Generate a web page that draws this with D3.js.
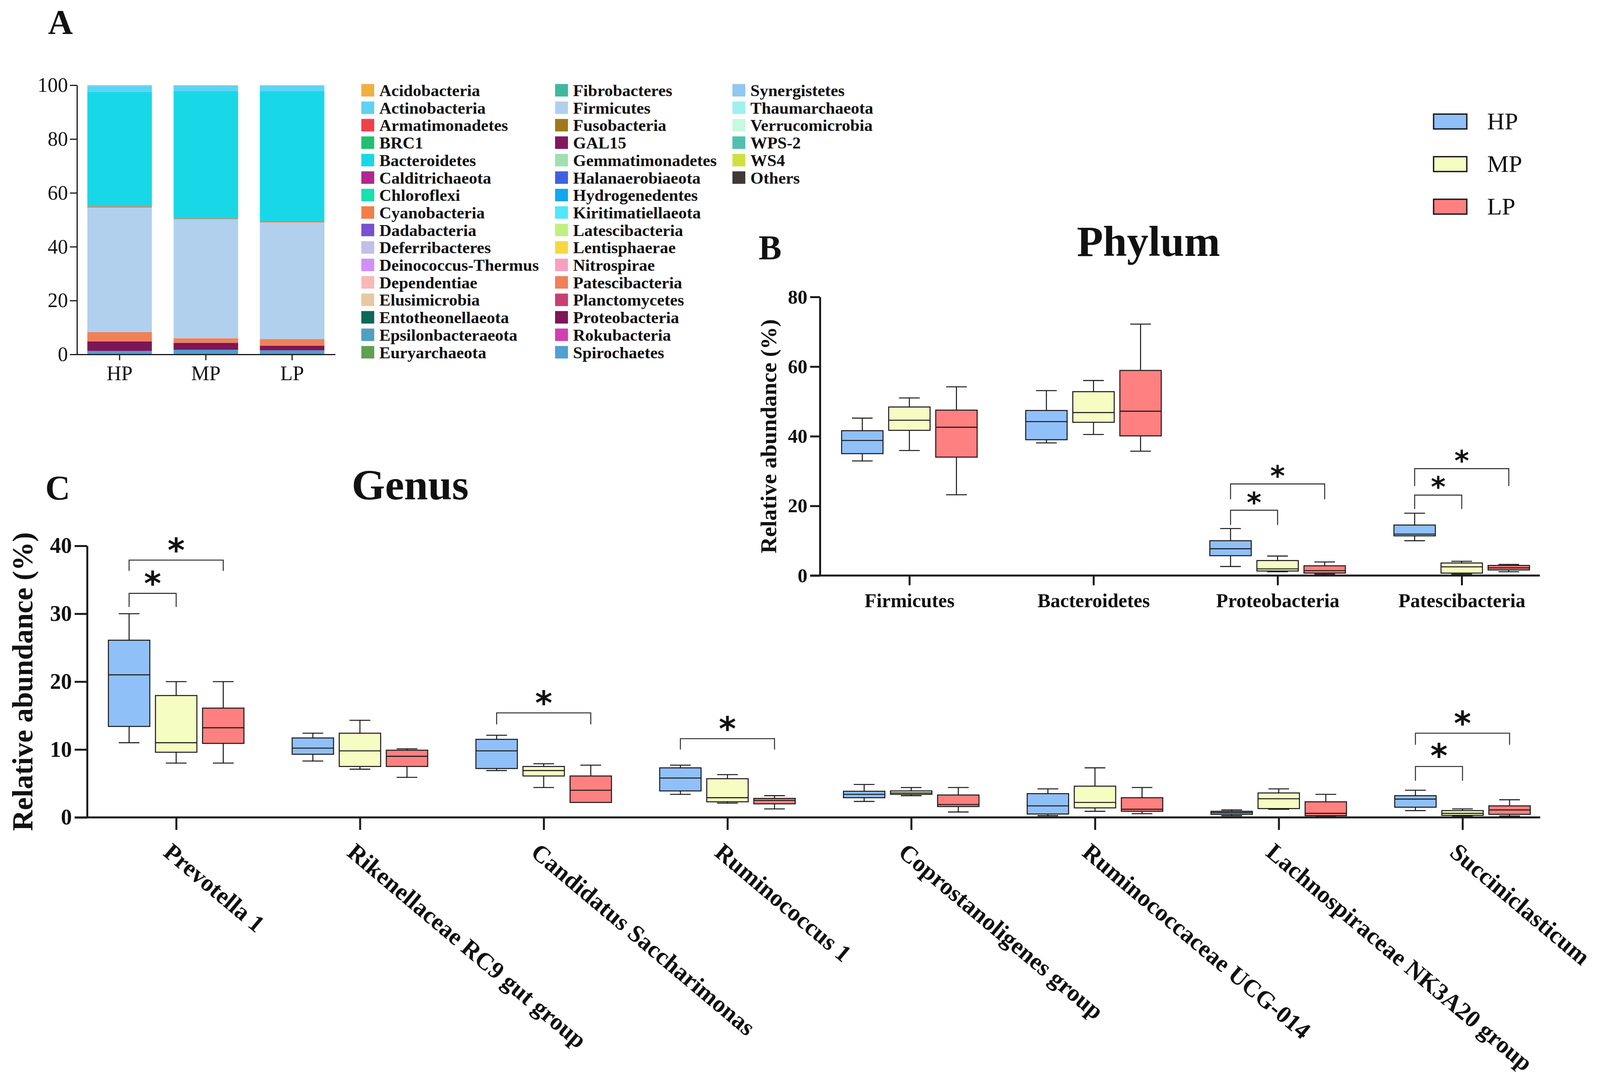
<!DOCTYPE html>
<html>
<head>
<meta charset="utf-8">
<script src="https://cdn.jsdelivr.net/npm/d3@7"></script>
<style>
  body { margin: 0; background: #fff; }
  text { font-family: "Liberation Serif", "Times New Roman", serif; fill: #111; }
</style>
</head>
<body>
<div id="chart"></div>
<script>
// ---- shared ----
const groups = ["HP", "MP", "LP"];
const groupFill = ["#90c0f8", "#f5fdc2", "#ff8080"];

// ---- panel A: stacked phylum composition (bottom to top) ----
const stackKeys = ["Spirochaetes", "Proteobacteria", "Patescibacteria", "Firmicutes",
  "Cyanobacteria", "Bacteroidetes", "Actinobacteria", "Acidobacteria"];
const stackHP = [1.3, 3.5, 3.5, 46.2, 0.5, 42.6, 2.2, 0.2];
const stackMP = [1.7, 2.6, 1.7, 44.2, 0.3, 47.4, 2.0, 0.1];
const stackLP = [1.5, 1.7, 2.5, 43.3, 0.5, 48.3, 2.1, 0.1];
const yTicksA = [0, 20, 40, 60, 80, 100];

const legendNames = [
  "Acidobacteria", "Actinobacteria", "Armatimonadetes", "BRC1", "Bacteroidetes", "Calditrichaeota",
  "Chloroflexi", "Cyanobacteria", "Dadabacteria", "Deferribacteres", "Deinococcus-Thermus", "Dependentiae",
  "Elusimicrobia", "Entotheonellaeota", "Epsilonbacteraeota", "Euryarchaeota",
  "Fibrobacteres", "Firmicutes", "Fusobacteria", "GAL15", "Gemmatimonadetes", "Halanaerobiaeota",
  "Hydrogenedentes", "Kiritimatiellaeota", "Latescibacteria", "Lentisphaerae", "Nitrospirae", "Patescibacteria",
  "Planctomycetes", "Proteobacteria", "Rokubacteria", "Spirochaetes",
  "Synergistetes", "Thaumarchaeota", "Verrucomicrobia", "WPS-2", "WS4", "Others"];
const legendColors = [
  "#f0b040", "#5fd3f3", "#f0404a", "#20c070", "#18d8e8", "#b0288e",
  "#18e0b0", "#f08048", "#7850d0", "#c0c0e8", "#d090f8", "#f8b8b8",
  "#e8c8a0", "#106858", "#50a0c0", "#60a050",
  "#40b8a0", "#b0d0ee", "#a07818", "#801860", "#a0e0b0", "#4060e0",
  "#10a8f0", "#50e8f8", "#c0f080", "#f8d840", "#f8a0c0", "#f08058",
  "#c84070", "#7d1559", "#d040b0", "#50a0d0",
  "#90c8f0", "#a0f0f0", "#c8f8e0", "#50c0b0", "#d0e040", "#403838"];

// ---- panel B: phylum boxes, [min, q1, median, q3, max] ----
const phyla = ["Firmicutes", "Bacteroidetes", "Proteobacteria", "Patescibacteria"];
const phylumHP = [[32.9, 35.0, 38.8, 41.6, 45.2], [38.1, 39.0, 44.2, 47.4, 53.1], [2.6, 5.7, 7.7, 10.0, 13.5], [10.0, 11.4, 11.9, 14.5, 17.9]];
const phylumMP = [[35.9, 41.7, 44.6, 48.4, 51.0], [40.5, 44.0, 46.8, 52.8, 56.0], [1.1, 1.3, 1.9, 4.3, 5.6], [0.4, 0.7, 2.5, 3.6, 4.1]];
const phylumLP = [[23.2, 34.0, 42.6, 47.5, 54.2], [35.7, 40.1, 47.2, 58.9, 72.2], [0.4, 0.7, 1.4, 2.8, 3.9], [1.1, 1.6, 2.2, 2.9, 3.2]];
const yTicksB = [0, 20, 40, 60, 80];
// [category, from, to, bracket level, leg end, star level]
const phylumSig = [
  ["Proteobacteria", "HP", "MP", 18.75, 14.5, 23.0],
  ["Proteobacteria", "HP", "LP", 26.3, 21.9, 30.7],
  ["Patescibacteria", "HP", "MP", 23.1, 19.1, 27.5],
  ["Patescibacteria", "HP", "LP", 30.7, 25.7, 35.0]];

// ---- panel C: genus boxes ----
const genera = ["Prevotella 1", "Rikenellaceae RC9 gut group", "Candidatus Saccharimonas", "Ruminococcus 1",
  "Coprostanoligenes group", "Ruminococcaceae UCG-014", "Lachnospiraceae NK3A20 group", "Succiniclasticum"];
const genusHP = [[11.0, 13.4, 21.0, 26.1, 30.0], [8.3, 9.3, 10.2, 11.7, 12.4], [6.9, 7.2, 9.8, 11.5, 12.1], [3.4, 3.9, 5.8, 7.3, 7.7],
  [2.35, 2.9, 3.4, 3.85, 4.85], [0.25, 0.5, 1.7, 3.5, 4.2], [0.25, 0.45, 0.7, 0.9, 1.1], [1.0, 1.5, 2.7, 3.2, 4.0]];
const genusMP = [[8.0, 9.6, 11.0, 17.95, 20.0], [7.1, 7.5, 9.8, 12.4, 14.3], [4.4, 6.1, 6.9, 7.5, 7.9], [2.1, 2.3, 2.9, 5.7, 6.3],
  [3.2, 3.4, 3.6, 3.9, 4.4], [0.9, 1.4, 2.2, 4.6, 7.3], [1.2, 1.3, 2.75, 3.6, 4.2], [0.2, 0.3, 0.6, 1.0, 1.25]];
const genusLP = [[8.0, 10.9, 13.2, 16.1, 20.0], [5.9, 7.5, 9.0, 9.9, 10.1], [2.2, 2.2, 4.0, 6.1, 7.7], [1.25, 2.0, 2.5, 2.8, 3.2],
  [0.8, 1.6, 1.9, 3.3, 4.4], [0.55, 0.9, 1.2, 2.9, 4.4], [0.2, 0.25, 0.6, 2.3, 3.4], [0.2, 0.45, 1.1, 1.7, 2.6]];
const yTicksC = [0, 10, 20, 30, 40];
const genusSig = [
  ["Prevotella 1", "HP", "MP", 33.0, 31.0, 35.7],
  ["Prevotella 1", "HP", "LP", 37.9, 36.3, 40.6],
  ["Candidatus Saccharimonas", "HP", "LP", 15.4, 13.7, 18.1],
  ["Ruminococcus 1", "HP", "LP", 11.6, 10.0, 14.3],
  ["Succiniclasticum", "HP", "MP", 7.5, 5.4, 10.3],
  ["Succiniclasticum", "HP", "LP", 12.4, 10.7, 15.1]];

const W = 4117, H = 2782;
const svg = d3.select("#chart").append("svg")
  .attr("width", W).attr("height", H)
  .style("background", "#fff");

const ink = "#1a1a1a";

// panel letters and titles
function label(txt, x, y, size, anchor) {
  svg.append("text").attr("x", x).attr("y", y)
    .attr("font-size", size).attr("font-weight", "bold")
    .attr("text-anchor", anchor || "start").text(txt);
}
label("A", 123, 86, 88);
label("B", 1942, 663, 88);
label("C", 116, 1278, 88);
label("Phylum", 2940, 655, 110, "middle");
label("Genus", 1050, 1278, 110, "middle");

// ================= Panel A =================
const xA = d3.scaleBand().domain(groups).range([195.75, 858.25]).paddingInner(0.252).paddingOuter(0.126);
const yA = d3.scaleLinear().domain([0, 100]).range([907, 218]);
const colorOf = d3.scaleOrdinal().domain(legendNames).range(legendColors);

const stackRows = groups.map((g, gi) => {
  const vals = [stackHP, stackMP, stackLP][gi];
  const row = { group: g };
  stackKeys.forEach((k, i) => row[k] = vals[i]);
  return row;
});
const series = d3.stack().keys(stackKeys)(stackRows);

const gA = svg.append("g");
gA.selectAll("g.layer").data(series).enter().append("g")
  .attr("fill", d => colorOf(d.key))
  .selectAll("rect").data(d => d).enter().append("rect")
  .attr("x", d => xA(d.data.group))
  .attr("width", xA.bandwidth())
  .attr("y", d => yA(d[1]))
  .attr("height", d => yA(d[0]) - yA(d[1]));

const axA = gA.append("g").attr("transform", "translate(197,0)")
  .call(d3.axisLeft(yA).tickValues(yTicksA).tickSize(18).tickSizeOuter(0).tickPadding(5));
const axAx = gA.append("g").attr("transform", "translate(0,907)")
  .call(d3.axisBottom(xA).tickSize(15).tickSizeOuter(0).tickPadding(14));
[axA, axAx].forEach(a => {
  a.attr("font-family", null);
  a.selectAll("path,line").attr("stroke", ink).attr("stroke-width", 3);
  a.selectAll("text").attr("font-size", 52).attr("fill", "#111")
    .style("font-family", '"Liberation Serif", serif');
});

// legend A
const legRow = 44.7;
legendNames.forEach((name, i) => {
  const col = Math.floor(i / 16), row = i % 16;
  const sx = [925, 1421, 1875][col];
  const tx = [971, 1467, 1921][col];
  const cy = 231 + row * legRow;
  svg.append("rect").attr("x", sx).attr("y", cy - 16).attr("width", 33).attr("height", 32)
    .attr("fill", colorOf(name));
  svg.append("text").attr("x", tx).attr("y", cy + 15).attr("font-size", 43)
    .attr("font-weight", "bold").attr("fill", "#222").text(name);
});

// group legend
groups.forEach((g, i) => {
  const cy = 311 + i * 109;
  svg.append("rect").attr("x", 3670).attr("y", cy - 19).attr("width", 85).attr("height", 38)
    .attr("fill", groupFill[i]).attr("stroke", ink).attr("stroke-width", 3.5);
  svg.append("text").attr("x", 3807).attr("y", cy + 20).attr("font-size", 62).text(g);
});

// ================= box panels =================
function boxPanel(cfg) {
  const g = svg.append("g");
  const off = d3.scalePoint().domain(groups).range([-120.5, 120.5]);
  const bw = 106, cap = 53;
  const stats = [cfg.hp, cfg.mp, cfg.lp];
  const boxes = [];
  cfg.cats.forEach((c, ci) => groups.forEach((gr, gi) => {
    const s = stats[gi][ci];
    boxes.push({ cx: cfg.x(c) + off(gr), s: s, fill: groupFill[gi] });
  }));
  const y = cfg.y;
  const b = g.selectAll("g.box").data(boxes).enter().append("g")
    .attr("stroke", ink).attr("stroke-width", 2.6);
  b.append("line").attr("x1", d => d.cx).attr("x2", d => d.cx)
    .attr("y1", d => y(d.s[0])).attr("y2", d => y(d.s[4]));
  b.append("line").attr("x1", d => d.cx - cap / 2).attr("x2", d => d.cx + cap / 2)
    .attr("y1", d => y(d.s[0])).attr("y2", d => y(d.s[0]));
  b.append("line").attr("x1", d => d.cx - cap / 2).attr("x2", d => d.cx + cap / 2)
    .attr("y1", d => y(d.s[4])).attr("y2", d => y(d.s[4]));
  b.append("rect").attr("x", d => d.cx - bw / 2).attr("width", bw)
    .attr("y", d => y(d.s[3])).attr("height", d => y(d.s[1]) - y(d.s[3]))
    .attr("fill", d => d.fill);
  b.append("line").attr("x1", d => d.cx - bw / 2).attr("x2", d => d.cx + bw / 2)
    .attr("y1", d => y(d.s[2])).attr("y2", d => y(d.s[2]));

  // significance brackets
  const sg = g.selectAll("g.sig").data(cfg.sig).enter().append("g");
  sg.append("path")
    .attr("fill", "none").attr("stroke", "#333").attr("stroke-width", 2.6)
    .attr("d", d => {
      const x1 = cfg.x(d[0]) + off(d[1]), x2 = cfg.x(d[0]) + off(d[2]);
      return `M${x1},${y(d[4])}V${y(d[3])}H${x2}V${y(d[4])}`;
    });
  sg.append("text")
    .attr("x", d => cfg.x(d[0]) + (off(d[1]) + off(d[2])) / 2)
    .attr("y", d => y(d[5]) + cfg.star * 0.6)
    .attr("text-anchor", "middle").attr("font-size", cfg.star)
    .attr("font-weight", "bold")
    .style("font-family", '"DejaVu Sans", sans-serif')
    .text("*");

  // axes
  const ay = g.append("g").attr("transform", `translate(${cfg.x0},0)`)
    .call(d3.axisLeft(y).tickValues(cfg.ticks).tickSize(cfg.tick).tickSizeOuter(0).tickPadding(7));
  ay.attr("font-family", null);
  ay.selectAll("path,line").attr("stroke", ink).attr("stroke-width", 5);
  ay.selectAll("text").attr("font-size", cfg.tickFont).attr("font-weight", "bold")
    .attr("fill", "#111").style("font-family", '"Liberation Serif", serif');

  g.append("line").attr("x1", cfg.xl[0]).attr("x2", cfg.xl[1])
    .attr("y1", y(0)).attr("y2", y(0)).attr("stroke", ink).attr("stroke-width", 5);
  const ax = g.append("g").attr("transform", `translate(0,${y(0)})`)
    .call(d3.axisBottom(cfg.x).tickSize(cfg.tick).tickSizeOuter(0).tickFormat(cfg.rot ? "" : null).tickPadding(20));
  ax.attr("font-family", null);
  ax.select(".domain").remove();
  ax.selectAll("line").attr("stroke", ink).attr("stroke-width", 5);
  ax.selectAll("text").attr("font-size", cfg.catFont).attr("font-weight", "bold")
    .attr("fill", "#111").style("font-family", '"Liberation Serif", serif');

  if (cfg.rot) {
    g.selectAll("text.cat").data(cfg.cats).enter().append("text")
      .attr("class", "cat")
      .attr("transform", d => `translate(${cfg.x(d) - 9},${y(0) + 63}) rotate(${cfg.rot})`)
      .attr("dy", "0.68em")
      .attr("font-size", cfg.catFont).attr("font-weight", "bold")
      .text(d => d);
  }

  // y title
  const yc = (y(0) + y(cfg.ticks[cfg.ticks.length - 1])) / 2;
  g.append("text").attr("transform", `translate(${cfg.titleX},${yc}) rotate(-90)`)
    .attr("text-anchor", "middle").attr("dominant-baseline", "central")
    .attr("font-size", cfg.titleFont).attr("font-weight", "bold")
    .text("Relative abundance (%)");
}

boxPanel({
  cats: phyla, hp: phylumHP, mp: phylumMP, lp: phylumLP, sig: phylumSig,
  x: d3.scalePoint().domain(phyla).range([2328, 3742]),
  y: d3.scaleLinear().domain([0, 80]).range([1473, 760]),
  x0: 2099, xl: [2074, 3942], ticks: yTicksB, tick: 25,
  tickFont: 50, catFont: 50, titleFont: 58, titleX: 1967, star: 72
});

boxPanel({
  cats: genera, hp: genusHP, mp: genusMP, lp: genusLP, sig: genusSig,
  x: d3.scalePoint().domain(genera).range([451, 3744]),
  y: d3.scaleLinear().domain([0, 40]).range([2092, 1397]),
  x0: 223, xl: [191, 3943], ticks: yTicksC, tick: 32,
  tickFont: 56, catFont: 62, titleFont: 74, titleX: 58, star: 84, rot: 40
});
</script>
</body>
</html>
